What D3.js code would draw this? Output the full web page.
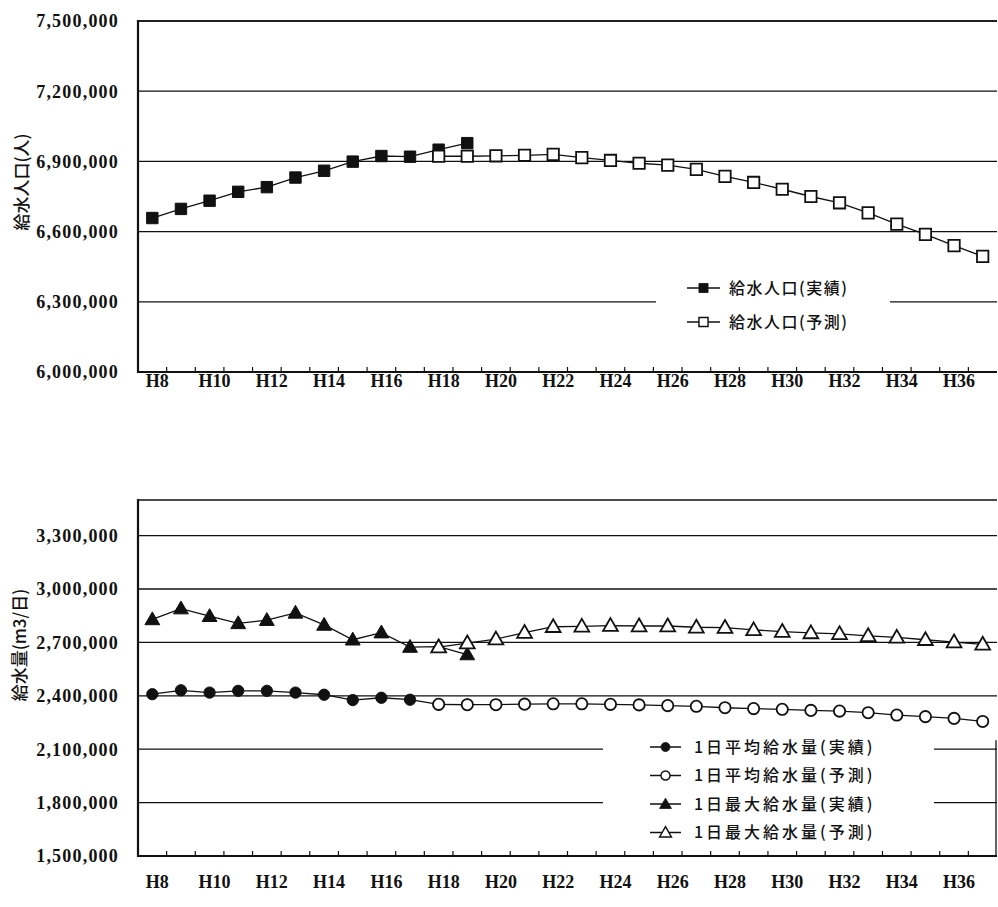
<!DOCTYPE html>
<html><head><meta charset="utf-8">
<script src="https://cdn.jsdelivr.net/npm/d3@7"></script>
<style>
html,body{margin:0;padding:0;background:#fff;}
svg{display:block;}
.num{font-family:"Liberation Serif","DejaVu Serif",serif;font-weight:bold;font-size:18px;letter-spacing:1.2px;fill:#111;}
.xl{font-family:"Liberation Serif","DejaVu Serif",serif;font-weight:bold;font-size:18px;fill:#111;}
.jp{font-family:"Noto Sans CJK JP",sans-serif;font-weight:500;fill:#111;}
</style>
</head><body>
<svg id="c" width="998" height="907"></svg>
<script>
// ---- data ----
const categories = d3.range(8, 38).map(n => "H" + n);           // H8 .. H37
const actualYears = categories.slice(0, 12);                      // H8 .. H19
const forecastYears = categories.slice(10);                       // H18 .. H37

const popActual = [6658000, 6697000, 6732000, 6770000, 6790000, 6831000, 6860000, 6899000, 6923000, 6920000, 6950000, 6978000];
const popForecast = [6922000, 6922000, 6924000, 6926000, 6930000, 6916000, 6904000, 6892000, 6884000, 6866000, 6836000, 6810000, 6781000, 6750000, 6723000, 6680000, 6632000, 6588000, 6540000, 6494000];

const avgActual = [2409000, 2431000, 2418000, 2428000, 2428000, 2418000, 2406000, 2376000, 2389000, 2378000, 2352000, 2350000];
const avgForecast = [2352000, 2350000, 2350000, 2353000, 2355000, 2355000, 2352000, 2349000, 2345000, 2341000, 2333000, 2328000, 2324000, 2318000, 2314000, 2305000, 2292000, 2283000, 2273000, 2256000];
const maxActual = [2829000, 2890000, 2847000, 2807000, 2825000, 2866000, 2798000, 2715000, 2755000, 2674000, 2676000, 2632000];
const maxForecast = [2674000, 2696000, 2718000, 2755000, 2788000, 2790000, 2794000, 2792000, 2792000, 2785000, 2783000, 2770000, 2761000, 2753000, 2748000, 2737000, 2728000, 2715000, 2702000, 2689000];

const popTicks = [6000000, 6300000, 6600000, 6900000, 7200000, 7500000];
const flowTicks = [1500000, 1800000, 2100000, 2400000, 2700000, 3000000, 3300000];
const xTickLabels = categories.filter((d, i) => i % 2 === 0 && i < 29);

const popTitle = "給水人口(人)";
const flowTitle = "給水量(m3/日)";
const popLegend = ["給水人口(実績)", "給水人口(予測)"];
const flowLegend = ["1日平均給水量(実績)", "1日平均給水量(予測)", "1日最大給水量(実績)", "1日最大給水量(予測)"];

// ---- drawing ----
const svg = d3.select("#c");
svg.append("rect").attr("width", 998).attr("height", 907).attr("fill", "#fff");
const fmt = d3.format(",");

const x = d3.scaleBand().domain(categories).range([138, 997]);
const cx = d => x(d) + x.bandwidth() / 2;

const markerPath = {
  square: d3.symbol().type(d3.symbolSquare).size(130)(),
  circle: d3.symbol().type(d3.symbolCircle).size(100)(),
  triangle: d3.symbol().type(d3.symbolTriangle).size(95)()
};

function panel(cfg) {
  const y = d3.scaleLinear().domain(cfg.domain).range(cfg.range);
  const g = svg.append("g");
  g.selectAll("line.grid").data(cfg.ticks.filter(t => t !== cfg.domain[0])).join("line")
    .attr("x1", 138).attr("x2", 997).attr("y1", d => y(d)).attr("y2", d => y(d))
    .attr("stroke", "#111").attr("stroke-width", 1.3);
  g.append("line").attr("x1", 138).attr("x2", 997).attr("y1", y(cfg.domain[1])).attr("y2", y(cfg.domain[1]))
    .attr("stroke", "#111").attr("stroke-width", 1.5);
  g.selectAll("text.yt").data(cfg.ticks).join("text").attr("class", "num")
    .attr("x", 119).attr("y", d => y(d)).attr("dy", "0.35em").attr("text-anchor", "end").text(d => fmt(d));
  g.append("text").attr("class", "jp").attr("font-size", 17)
    .attr("transform", `translate(${cfg.titleX},${cfg.titleY}) rotate(-90)`)
    .attr("text-anchor", "middle").attr("dy", "0.35em").text(cfg.title);
  const base = y(cfg.domain[0]);
  g.append("line").attr("x1", 137).attr("x2", 997).attr("y1", base).attr("y2", base)
    .attr("stroke", "#111").attr("stroke-width", 2);
  g.selectAll("line.xt").data(categories.slice(1)).join("line")
    .attr("x1", d => x(d)).attr("x2", d => x(d))
    .attr("y1", base).attr("y2", base - 5)
    .attr("stroke", "#111").attr("stroke-width", 1.2);
  g.selectAll("text.xl").data(xTickLabels).join("text").attr("class", "xl")
    .attr("x", d => cx(d) + 5).attr("y", cfg.xLabelY).attr("dy", "0.35em").attr("text-anchor", "middle").text(d => d);
  g.append("line").attr("x1", 138).attr("x2", 138).attr("y1", y(cfg.domain[1]) - 1).attr("y2", base + 1)
    .attr("stroke", "#111").attr("stroke-width", 2.2);
  if (cfg.rightBorder) {
    g.append("line").attr("x1", 996).attr("x2", 996).attr("y1", y(cfg.rightBorder)).attr("y2", base)
      .attr("stroke", "#111").attr("stroke-width", 1.3);
  }
  const lg = cfg.legend;
  g.append("rect").attr("x", lg.x0).attr("y", lg.y0).attr("width", lg.x1 - lg.x0).attr("height", lg.y1 - lg.y0).attr("fill", "#fff");

  const line = d3.line().x(d => cx(d[0])).y(d => y(d[1]));
  cfg.series.forEach(s => {
    const pts = s.cats.map((c, i) => [c, s.values[i]]);
    g.append("path").attr("d", line(pts)).attr("fill", "none").attr("stroke", "#111").attr("stroke-width", 1.3);
    g.selectAll(null).data(pts).join("path")
      .attr("d", markerPath[s.shape])
      .attr("transform", d => `translate(${cx(d[0])},${y(d[1]) + (s.shape === "triangle" ? 1 : 0)})`)
      .attr("fill", s.filled ? "#111" : "#fff").attr("stroke", "#111").attr("stroke-width", s.filled ? 1 : 1.8);
  });

  lg.items.forEach((it, i) => {
    const yy = lg.firstY + i * lg.step;
    g.append("line").attr("x1", lg.mx0).attr("x2", lg.mx1).attr("y1", yy).attr("y2", yy).attr("stroke", "#111").attr("stroke-width", 1.5);
    g.append("path").attr("d", markerPath[it.shape])
      .attr("transform", `translate(${(lg.mx0 + lg.mx1) / 2},${yy + (it.shape === "triangle" ? 1 : 0)}) scale(0.8)`)
      .attr("fill", it.filled ? "#111" : "#fff").attr("stroke", "#111").attr("stroke-width", it.filled ? 1 : 1.8);
    g.append("text").attr("class", "jp").attr("font-size", 16).attr("letter-spacing", lg.ls)
      .attr("x", lg.tx).attr("y", yy).attr("dy", "0.35em").text(it.label);
  });
}

panel({
  domain: [6000000, 7500000], range: [372, 21], ticks: popTicks,
  title: popTitle, titleX: 22, titleY: 182, xLabelY: 381,
  series: [
    {cats: actualYears, values: popActual, shape: "square", filled: true},
    {cats: forecastYears, values: popForecast, shape: "square", filled: false}
  ],
  legend: {x0: 656, x1: 890, y0: 268, y1: 342, firstY: 288, step: 34, mx0: 687, mx1: 720, tx: 729, ls: 1.5,
    items: [{label: popLegend[0], shape: "square", filled: true}, {label: popLegend[1], shape: "square", filled: false}]}
});

panel({
  domain: [1500000, 3500000], range: [856, 500], ticks: flowTicks,
  title: flowTitle, titleX: 20, titleY: 645, xLabelY: 882, rightBorder: 2150000,
  series: [
    {cats: actualYears, values: avgActual, shape: "circle", filled: true},
    {cats: actualYears, values: maxActual, shape: "triangle", filled: true},
    {cats: forecastYears, values: avgForecast, shape: "circle", filled: false},
    {cats: forecastYears, values: maxForecast, shape: "triangle", filled: false}
  ],
  legend: {x0: 603, x1: 934, y0: 733, y1: 850, firstY: 747, step: 28.5, mx0: 650, mx1: 681, tx: 694, ls: 3,
    items: [
      {label: flowLegend[0], shape: "circle", filled: true},
      {label: flowLegend[1], shape: "circle", filled: false},
      {label: flowLegend[2], shape: "triangle", filled: true},
      {label: flowLegend[3], shape: "triangle", filled: false}
    ]}
});
</script>
</body></html>
